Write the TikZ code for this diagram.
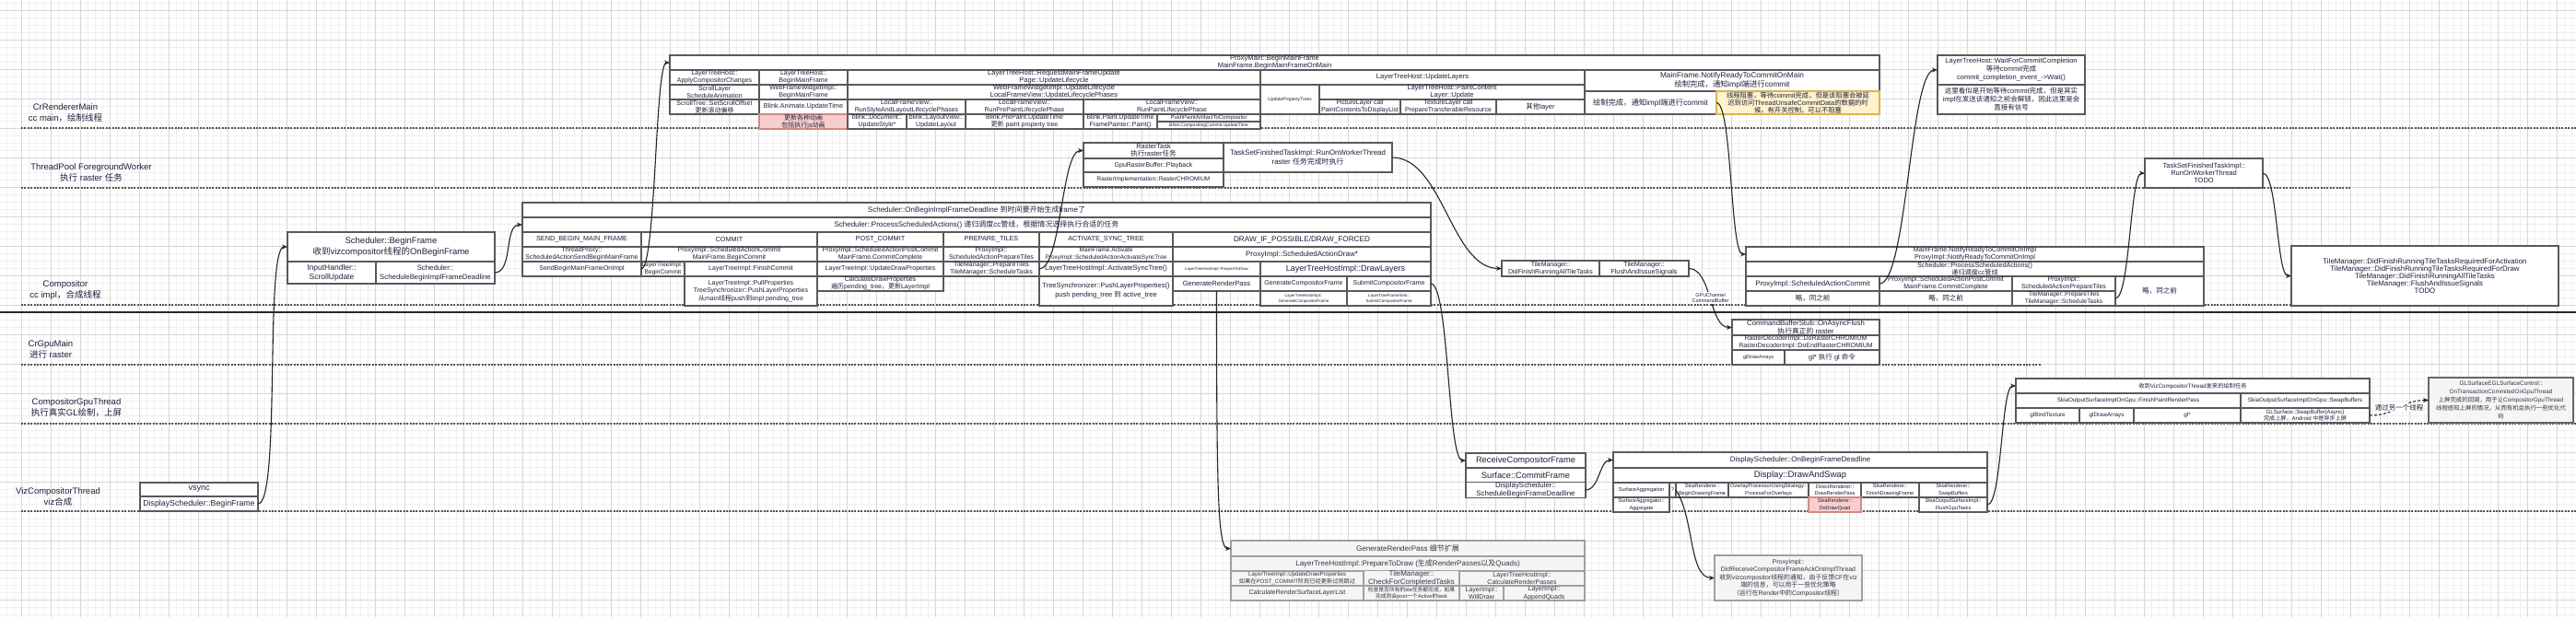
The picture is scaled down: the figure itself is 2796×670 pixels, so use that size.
\documentclass[tikz,border=0pt]{standalone}
\usepackage{fontspec}
\setmainfont{Liberation Sans}
\newfontfamily\cjkf{Noto Sans CJK SC}
\usetikzlibrary{arrows.meta}
\newcount\cjkcnt
\chardef\cjkcls=10
\newcommand\setcjkrange[2]{\cjkcnt=#1\relax\loop\XeTeXcharclass\cjkcnt=\cjkcls\relax\ifnum\cjkcnt<#2\relax\advance\cjkcnt by 1\relax\repeat}
\setcjkrange{"3000}{"303F}
\setcjkrange{"4E00}{"9FFF}
\setcjkrange{"FF00}{"FFEF}
\XeTeXinterchartoks 0 \cjkcls = {\cjkf}
\XeTeXinterchartoks 4095 \cjkcls = {\cjkf}
\XeTeXinterchartoks \cjkcls 0 = {\rmfamily}
\XeTeXinterchartoks \cjkcls 4095 = {\rmfamily}
\XeTeXinterchartokenstate=1
\newcommand\fz[2]{\fontsize{#1}{#2}\selectfont}
\definecolor{cbd}{HTML}{595959}
\definecolor{ctx}{HTML}{1E1E3C}
\definecolor{cpink}{HTML}{F8CECC}
\definecolor{cpinkd}{HTML}{D08A86}
\definecolor{cyel}{HTML}{FFF2CC}
\definecolor{cyeld}{HTML}{D6B656}
\definecolor{cgf}{HTML}{F5F5F5}
\definecolor{cgd}{HTML}{A0A0A0}
\definecolor{cgt}{HTML}{333344}
\definecolor{cgmaj}{HTML}{D6D6D6}
\definecolor{cgmin}{HTML}{F0F0F0}
\definecolor{clane}{HTML}{555555}
\newcommand\cel[7][]{\node[cellst,#1,minimum width={#5-#3},minimum height={#6-#4}] (#2) at ({(#3+#5)/2},{(#4+#6)/2}) {#7};}
\begin{document}
\begin{tikzpicture}[x=1pt,y=-1pt,
  cellst/.style={draw=cbd,line width=1.2,fill=white,inner sep=0pt,outer sep=0pt,align=center,text=ctx,font=\fz{7}{8}},
  hd/.style={font=\fz{7.3}{8}},
  pinkc/.style={fill=cpink,draw=cpinkd},
  grayc/.style={fill=cgf,draw=cgd,text=cgt},
  lanelab/.style={align=center,text=ctx,font=\fz{9.5}{12},inner sep=0pt},
  laneline/.style={draw=clane,line width=1.3,dash pattern=on 2pt off 1.4pt},
  gridmin/.style={draw=cgmin,line width=0.5},
  gridmaj/.style={draw=cgmaj,line width=0.8},
  conn/.style={draw=black!85,line width=1.1,-{Stealth[length=6pt,width=5pt]}},
  clab/.style={fill=white,inner sep=1pt,text=ctx,align=center}]
\useasboundingbox (0,0) rectangle (2796,670);
\fill[white] (0,0) rectangle (2796,670);
% grid
\foreach \k in {0,...,350} \draw[gridmin] ({-0.7+8*\k},0) -- ({-0.7+8*\k},670);
\foreach \k in {0,...,84} \draw[gridmin] (0,{3.3+8*\k}) -- (2796,{3.3+8*\k});
\foreach \k in {0,...,87} \draw[gridmaj] ({23.3+32*\k},0) -- ({23.3+32*\k},670);
\foreach \k in {0,...,20} \draw[gridmaj] (0,{11.3+32*\k}) -- (2796,{11.3+32*\k});
% lanes
\foreach \yy/\xe in {139/2796,204/2552,331/2540,396/2215,460/2796,555/2796} \draw[laneline] (23,\yy) -- (\xe,\yy);
\draw[line width=2.2,draw=black!85] (0,339) -- (2796,339);
\node[lanelab] (ln1) at (71,123) {CrRendererMain\\cc main，绘制线程};
\node[lanelab] (ln2) at (99,187) {ThreadPool ForegroundWorker\\执行 raster 任务};
\node[lanelab] (ln3) at (71,315) {Compositor\\cc impl，合成线程};
\node[lanelab] (ln4) at (55,379) {CrGpuMain\\进行 raster};
\node[lanelab] (ln5) at (83,443) {CompositorGpuThread\\执行真实GL绘制，上屏};
\node[lanelab] (ln6) at (63,539) {VizCompositorThread\\viz合成};
% vsync
\cel[font=\fz{9}{11}]{vs}{152}{524}{280}{539}{vsync}
\cel[font=\fz{8.8}{10}]{vsb}{152}{539}{280}{555}{DisplayScheduler::BeginFrame}
% Scheduler::BeginFrame
\cel[font=\fz{9.5}{12}]{sbf}{312}{252}{537}{284}{Scheduler::BeginFrame\\收到vizcompositor线程的OnBeginFrame}
\cel[font=\fz{8.5}{10}]{sbfa}{312}{284}{408}{308}{InputHandler::\\ScrollUpdate}
\cel[font=\fz{7.8}{10}]{sbfb}{408}{284}{537}{308}{Scheduler::\\ScheduleBeginImplFrameDeadline}
% Scheduler deadline box
\cel[font=\fz{8}{9}]{sa}{567}{220}{1553}{236}{Scheduler::OnBeginImplFrameDeadline 到时间要开始生成frame了}
\cel[font=\fz{8}{9}]{sb}{567}{236}{1553}{252}{Scheduler::ProcessScheduledActions() 递归调度cc管线，根据情况选择执行合适的任务}
\cel[hd]{sc1}{567}{252}{696}{268}{SEND\_BEGIN\_MAIN\_FRAME}
\cel[hd]{sc2}{696}{252}{887}{268}{COMMIT}
\cel[hd]{sc3}{887}{252}{1024}{268}{POST\_COMMIT}
\cel[hd]{sc4}{1024}{252}{1128}{268}{PREPARE\_TILES}
\cel[hd]{sc5}{1128}{252}{1273}{268}{ACTIVATE\_SYNC\_TREE}
\cel[font=\fz{8.2}{9}]{sc6}{1273}{252}{1553}{268}{DRAW\_IF\_POSSIBLE/DRAW\_FORCED}
\cel{sd1}{567}{268}{696}{284}{ThreadProxy::\\ScheduledActionSendBeginMainFrame}
\cel{sd2}{696}{268}{887}{284}{ProxyImpl::ScheduledActionCommit\\MainFrame.BeginCommit}
\cel{sd3}{887}{268}{1024}{284}{ProxyImpl::ScheduledActionPostCommit\\MainFrame.CommitComplete}
\cel{sd4}{1024}{268}{1128}{284}{ProxyImpl::\\ScheduledActionPrepareTiles}
\cel[font=\fz{6.5}{8}]{sd5}{1128}{268}{1273}{284}{MainFrame.Activate\\ProxyImpl::ScheduledActionActivateSyncTree}
\cel[font=\fz{8}{9}]{sd6}{1273}{268}{1553}{284}{ProxyImpl::ScheduledActionDraw*}
\cel{se1}{567}{284}{696}{300}{SendBeginMainFrameOnImpl}
\cel[font=\fz{6.6}{7.5}]{se2a}{696}{284}{743}{300}{LayerTreeImpl::\\BeginCommit}
\cel{se2b}{743}{284}{887}{300}{LayerTreeImpl::FinishCommit}
\cel{se3}{887}{284}{1024}{300}{LayerTreeImpl::UpdateDrawProperties}
\cel{se4}{1024}{284}{1128}{300}{TileManager::PrepareTiles\\TileManager::ScheduleTasks}
\cel[font=\fz{7.6}{9}]{se5}{1128}{284}{1273}{300}{LayerTreeHostImpl::ActivateSyncTree()}
\cel[font=\fz{4.3}{5}]{se6a}{1273}{284}{1368}{300}{LayerTreeHostImpl::PrepareToDraw}
\cel[font=\fz{9}{10}]{se6b}{1368}{284}{1553}{300}{LayerTreeHostImpl::DrawLayers}
\cel[font=\fz{7}{8.5}]{sf2}{743}{300}{887}{332}{LayerTreeImpl::PullProperties\\TreeSynchronizer::PushLayerProperties\\从main线程push到impl pending\_tree}
\cel{sf3}{887}{300}{1024}{316}{CalculateDrawProperties\\遍历pending\_tree，更新LayerImpl}
\cel[font=\fz{7.5}{10}]{sf5}{1128}{300}{1273}{332}{TreeSynchronizer::PushLayerProperties()\\push pending\_tree 到 active\_tree}
\cel[font=\fz{7.6}{9}]{sf6a}{1273}{300}{1368}{316}{GenerateRenderPass}
\cel{sf6b}{1368}{300}{1462}{316}{GenerateCompositorFrame}
\cel{sf6c}{1462}{300}{1553}{316}{SubmitCompositorFrame}
\cel[font=\fz{4.5}{6}]{sg6b}{1368}{316}{1462}{332}{LayerTreeHostImpl::\\GenerateCompositorFrame}
\cel[font=\fz{4.5}{6}]{sg6c}{1462}{316}{1553}{332}{LayerTreeFrameSink::\\SubmitCompositorFrame}
% ProxyMain box
\cel[font=\fz{7.5}{8}]{pm}{727}{60}{2040}{76}{ProxyMain::BeginMainFrame\\MainFrame.BeginMainFrameOnMain}
\cel{pa1}{727}{76}{824}{92}{LayerTreeHost::\\ApplyCompositorChanges}
\cel{pa2}{824}{76}{920}{92}{LayerTreeHost::\\BeginMainFrame}
\cel[font=\fz{7.5}{8}]{pa3}{920}{76}{1368}{92}{LayerTreeHost::RequestMainFrameUpdate\\Page::UpdateLifecycle}
\cel[font=\fz{7.5}{8}]{pa4}{1368}{76}{1720}{92}{LayerTreeHost::UpdateLayers}
\cel[font=\fz{8.3}{10}]{pr1}{1720}{76}{2040}{99}{MainFrame.NotifyReadyToCommitOnMain\\绘制完成，通知impl端进行commit}
\cel{pb1}{727}{92}{824}{108}{ScrollLayer\\ScheduleAnimation}
\cel{pb2}{824}{92}{920}{108}{WebFrameWidgetImpl::\\BeginMainFrame}
\cel[font=\fz{7.5}{8}]{pb3}{920}{92}{1368}{108}{WebFrameWidgetImpl::UpdateLifecycle\\LocalFrameView::UpdateLifecyclePhases}
\cel[font=\fz{5}{6}]{pb4}{1368}{92}{1432}{124}{UpdatePropertyTrees}
\cel[font=\fz{7.5}{8}]{pb5}{1432}{92}{1720}{108}{LayerTreeHost::PaintContent\\Layer::Update}
\cel{pc1}{727}{108}{824}{124}{ScrollTree::SetScrollOffset\\更新滚动偏移}
\cel[font=\fz{7.3}{8}]{pc2}{824}{108}{920}{124}{Blink.Animate.UpdateTime}
\cel{pc3}{920}{108}{1048}{124}{LocalFrameView::\\RunStyleAndLayoutLifecyclePhases}
\cel{pc4}{1048}{108}{1176}{124}{LocalFrameView::\\RunPrePaintLifecyclePhase}
\cel{pc5}{1176}{108}{1368}{124}{LocalFrameView::\\RunPaintLifecyclePhase}
\cel[font=\fz{6.9}{8}]{pc6}{1432}{108}{1520}{124}{PictureLayer call\\PaintContentsToDisplayList}
\cel{pc7}{1520}{108}{1624}{124}{TextureLayer call\\PrepareTransferableResource}
\cel[font=\fz{7.5}{8}]{pc8}{1624}{108}{1720}{124}{其他layer}
\cel[font=\fz{8.3}{10}]{pr2}{1720}{99}{1863}{124}{绘制完成，通知impl端进行commit}
\cel[fill=cyel,draw=cyeld,font=\fz{7.3}{8}]{pr3}{1863}{99}{2040}{124}{线程阻塞，等待commit完成，但是该阻塞会被延\\迟到访问ThreadUnsafeCommitData的数据的时\\候。有开关控制，可以不阻塞}
\cel[pinkc]{pd2}{824}{124}{920}{140}{更新各种动画\\包括执行js动画}
\cel{pd3}{920}{124}{984}{140}{blink::Document::\\UpdateStyle*}
\cel{pd4}{984}{124}{1048}{140}{blink::LayoutView::\\UpdateLayout}
\cel{pd5}{1048}{124}{1176}{140}{Blink.PrePaint.UpdateTime\\更新 paint property tree}
\cel{pd6}{1176}{124}{1256}{140}{Blink.Paint.UpdateTime\\FramePainter::Paint()}
\cel[font=\fz{6}{7}]{pd7}{1256}{124}{1368}{132}{PushPaintArtifactToCompositor}
\cel[font=\fz{5}{6}]{pd8}{1256}{132}{1368}{140}{Blink.CompositingCommit.UpdateTime}
% WaitForCommit box
\cel[font=\fz{7.5}{9}]{wf1}{2103}{60}{2263}{92}{LayerTreeHost::WaitForCommitCompletion\\等待commit完成\\commit\_completion\_event\_->Wait()}
\cel[font=\fz{7.5}{9}]{wf2}{2103}{92}{2263}{124}{这里看似是开始等待commit完成，但是其实\\impl在发送该通知之前会解锁，因此这里是会\\直接有信号}
% Raster tasks
\cel[font=\fz{7.5}{8}]{rt1}{1176}{155}{1328}{172}{RasterTask\\执行raster任务}
\cel{rt2}{1176}{172}{1328}{187}{GpuRasterBuffer::Playback}
\cel[font=\fz{6.5}{8}]{rt3}{1176}{187}{1328}{203}{RasterImplementation::RasterCHROMIUM}
\cel[font=\fz{7.9}{9.5}]{ts1}{1328}{155}{1511}{187}{TaskSetFinishedTaskImpl::RunOnWorkerThread\\raster 任务完成时执行}
\cel[font=\fz{7.5}{8}]{ts2}{2328}{172}{2456}{204}{TaskSetFinishedTaskImpl::\\RunOnWorkerThread\\TODO}
% TileManager small
\cel[font=\fz{7}{8}]{tm1}{1630}{283}{1736}{300}{TileManager::\\DidFinishRunningAllTileTasks}
\cel[font=\fz{7.3}{8}]{tm2}{1736}{283}{1833}{300}{TileManager::\\FlushAndIssueSignals}
% ProxyImpl right
\cel[font=\fz{7.2}{8}]{pi1}{1895}{268}{2392}{284}{MainFrame.NotifyReadyToCommitOnImpl\\ProxyImpl::NotifyReadyToCommitOnImpl}
\cel[font=\fz{7.2}{8}]{pi2}{1895}{284}{2392}{300}{Scheduler::ProcessScheduledActions()\\递归调度cc管线}
\cel[font=\fz{7.8}{9}]{pi3a}{1895}{300}{2040}{316}{ProxyImpl::ScheduledActionCommit}
\cel{pi3b}{2040}{300}{2184}{316}{ProxyImpl::ScheduledActionPostCommit\\MainFrame.CommitComplete}
\cel{pi3c}{2184}{300}{2296}{316}{ProxyImpl::\\ScheduledActionPrepareTiles}
\cel[font=\fz{7.5}{9}]{pi3d}{2296}{300}{2392}{332}{略，同之前}
\cel[font=\fz{7.5}{9}]{pi4a}{1895}{316}{2040}{332}{略，同之前}
\cel[font=\fz{7.5}{9}]{pi4b}{2040}{316}{2184}{332}{略，同之前}
\cel[font=\fz{6.6}{8}]{pi4c}{2184}{316}{2296}{332}{TileManager::PrepareTiles\\TileManager::ScheduleTasks}
% TileManager big
\cel[font=\fz{7.9}{8}]{tmb}{2487}{267}{2777}{332}{TileManager::DidFinishRunningTileTasksRequiredForActivation\\TileManager::DidFinishRunningTileTasksRequiredForDraw\\TileManager::DidFinishRunningAllTileTasks\\TileManager::FlushAndIssueSignals\\TODO}
% CommandBufferStub
\cel[font=\fz{7.8}{8}]{cb1}{1880}{347}{2040}{364}{CommandBufferStub::OnAsyncFlush\\执行真正的 raster}
\cel[font=\fz{7}{8}]{cb2}{1880}{364}{2040}{380}{RasterDecoderImpl::DoRasterCHROMIUM\\RasterDecoderImpl::DoEndRasterCHROMIUM}
\cel[font=\fz{5.5}{7}]{cb3}{1880}{380}{1937}{396}{glDrawArrays}
\cel[font=\fz{7.5}{9}]{cb4}{1937}{380}{2040}{396}{gl* 执行 gl 命令}
% GPU thread box
\cel[font=\fz{6.3}{7.5}]{gp0}{2188}{411}{2572}{427}{收到VizCompositorThread发来的绘制任务}
\cel[font=\fz{6.3}{7.5}]{gp1a}{2188}{427}{2432}{443}{SkiaOutputSurfaceImplOnGpu::FinishPaintRenderPass}
\cel[font=\fz{6.3}{7.5}]{gp1b}{2432}{427}{2572}{443}{SkiaOutputSurfaceImplOnGpu::SwapBuffers}
\cel[font=\fz{6.3}{7.5}]{gp2a}{2188}{443}{2257}{459}{glBindTexture}
\cel[font=\fz{6.3}{7.5}]{gp2b}{2257}{443}{2316}{459}{glDrawArrays}
\cel[font=\fz{6.3}{7.5}]{gp2c}{2316}{443}{2432}{459}{gl*}
\cel[font=\fz{6.1}{7.3}]{gp2d}{2432}{443}{2572}{459}{GLSurface::SwapBuffer(Async)\\完成上屏，Android 中是异步上屏}
\cel[grayc,draw=black!60,font=\fz{6.4}{8.8}]{gbox}{2636}{410}{2793}{459}{GLSurfaceEGLSurfaceControl::\\OnTransactionCommitedOnGpuThread\\上屏完成的回调，用于让CompositorGpuThread\\线程感知上屏的情况，从而有机会执行一些优化代\\码}
% Viz compositor
\cel[font=\fz{9.3}{10}]{rc1}{1591}{492}{1721}{508}{ReceiveCompositorFrame}
\cel[font=\fz{9.3}{10}]{rc2}{1591}{508}{1721}{524}{Surface::CommitFrame}
\cel[font=\fz{7.9}{9}]{rc3}{1591}{524}{1721}{540}{DisplayScheduler::\\ScheduleBeginFrameDeadline}
\cel[font=\fz{8}{9}]{ds1}{1751}{491}{2157}{508}{DisplayScheduler::OnBeginFrameDeadline}
\cel[font=\fz{9.6}{10}]{ds2}{1751}{508}{2157}{524}{Display::DrawAndSwap}
\cel[font=\fz{5.6}{7}]{dsa}{1751}{524}{1812}{540}{SurfaceAggregation}
\cel[font=\fz{5.6}{7}]{dsq}{1812}{524}{1819}{540}{?}
\cel[font=\fz{5.6}{7.5}]{dsb}{1819}{524}{1876}{540}{SkiaRenderer::\\BeginDrawingFrame}
\cel[font=\fz{5.6}{7.5}]{dsc}{1876}{524}{1963}{540}{OverlayProcessorUsingStrategy::\\ProcessForOverlays}
\cel[font=\fz{5.6}{7.5}]{dsd}{1963}{524}{2020}{540}{DirectRenderer::\\DrawRenderPass}
\cel[font=\fz{5.6}{7.5}]{dse}{2020}{524}{2083}{540}{SkiaRenderer::\\FinishDrawingFrame}
\cel[font=\fz{5.6}{7.5}]{dsf}{2083}{524}{2157}{540}{SkiaRenderer::\\SwapBuffers}
\cel[font=\fz{5.6}{7.5}]{dsh}{1751}{540}{1812}{556}{SurfaceAggregator::\\Aggregate}
\cel[pinkc,font=\fz{5.6}{7.5}]{dsi}{1963}{540}{2020}{556}{SkiaRenderer::\\DoDrawQuad}
\cel[font=\fz{5.6}{7.5}]{dsj}{2083}{540}{2157}{556}{SkiaOutputSurfaceImpl::\\FlushGpuTasks}
% GenerateRenderPass details
\cel[grayc,font=\fz{8}{9}]{gr1}{1336}{587}{1720}{604}{GenerateRenderPass 细节扩展}
\cel[grayc,font=\fz{8}{9}]{gr2}{1336}{604}{1720}{620}{LayerTreeHostImpl::PrepareToDraw (生成RenderPasses以及Quads)}
\cel[grayc,font=\fz{6.2}{7.5}]{gr3a}{1336}{620}{1480}{636}{LayerTreeImpl::UpdateDrawProperties\\如果在POST\_COMMIT阶段已经更新过则跳过}
\cel[grayc,font=\fz{8}{9}]{gr3b}{1480}{620}{1584}{636}{TileManager::\\CheckForCompletedTasks}
\cel[grayc,font=\fz{7}{8.5}]{gr3c}{1584}{620}{1720}{636}{LayerTreeHostImpl::\\CalculateRenderPasses}
\cel[grayc,font=\fz{7}{8}]{gr4a}{1336}{636}{1480}{652}{CalculateRenderSurfaceLayerList}
\cel[grayc,font=\fz{5.8}{7.5}]{gr4b}{1480}{636}{1584}{652}{检查是否所有的tile任务都完成，如果\\完成则会post一个Active的task}
\cel[grayc,font=\fz{7}{8.5}]{gr4c}{1584}{636}{1632}{652}{LayerImpl::\\WillDraw}
\cel[grayc,font=\fz{7}{8.5}]{gr4d}{1632}{636}{1720}{652}{LayerImpl::\\AppendQuads}
% ProxyImpl bottom
\cel[grayc,font=\fz{6.9}{8.6}]{pib}{1861}{603}{2021}{652}{ProxyImpl::\\DidReceiveCompositorFrameAckOnImplThread\\收到vizcompositor线程的通知，由于反馈CF在viz\\端的信息，可以用于一些优化策略\\（运行在Render中的Compositor线程）}
% connectors
\draw[conn] (vsb.east) .. controls +(25,0) and +(-25,0) .. (sbf.west);
\draw[conn] (sbfb.east) .. controls +(20,0) and +(-20,0) .. (sb.west);
\draw[conn] (se1.east) .. controls +(16,0) and +(-16,0) .. (pm.west);
\draw[conn] (se4.east) .. controls +(24,0) and +(-24,0) .. (rt1.west);
\draw[conn] (ts1.east) .. controls +(55,0) and +(-55,0) .. (tm1.west);
\draw[conn] (sf6c.east) .. controls +(20,0) and +(-20,0) .. (rc1.west);
\draw[conn] (pr2.east) .. controls +(17,0) and +(-17,0) .. (pi1.west);
\draw[conn] (pi3a.east) .. controls +(30,0) and +(-30,0) .. (wf1.west);
\draw[conn] (pi4c.east) .. controls +(16,0) and +(-16,0) .. (ts2.west);
\draw[conn] (ts2.east) .. controls +(16,0) and +(-16,0) .. (tmb.west);
\draw[conn] (tm2.east) .. controls +(25,0) and +(-25,0) .. node[clab,font=\fz{5.5}{6.5}] (lgc) {GPUChannel\\CommandBuffer} (cb1.west);
\draw[conn] (dsj.east) .. controls +(16,0) and +(-16,0) .. (gp0.west);
\draw[conn,dash pattern=on 3pt off 2pt] (gp2d.east) .. controls +(30,0) and +(-30,0) .. node[clab,font=\fz{7.5}{9}] (lth) {通过另一个线程} (gbox.west);
\draw[conn] (rc3.east) .. controls +(15,0) and +(-15,0) .. (ds1.west);
\draw[conn] (dsq.east) .. controls +(20,30) and +(-28,0) .. (pib.west);
\draw[conn] (sf6a.south) .. controls +(0,220) and +(-14,0) .. (gr1.west);
\end{tikzpicture}
\end{document}
